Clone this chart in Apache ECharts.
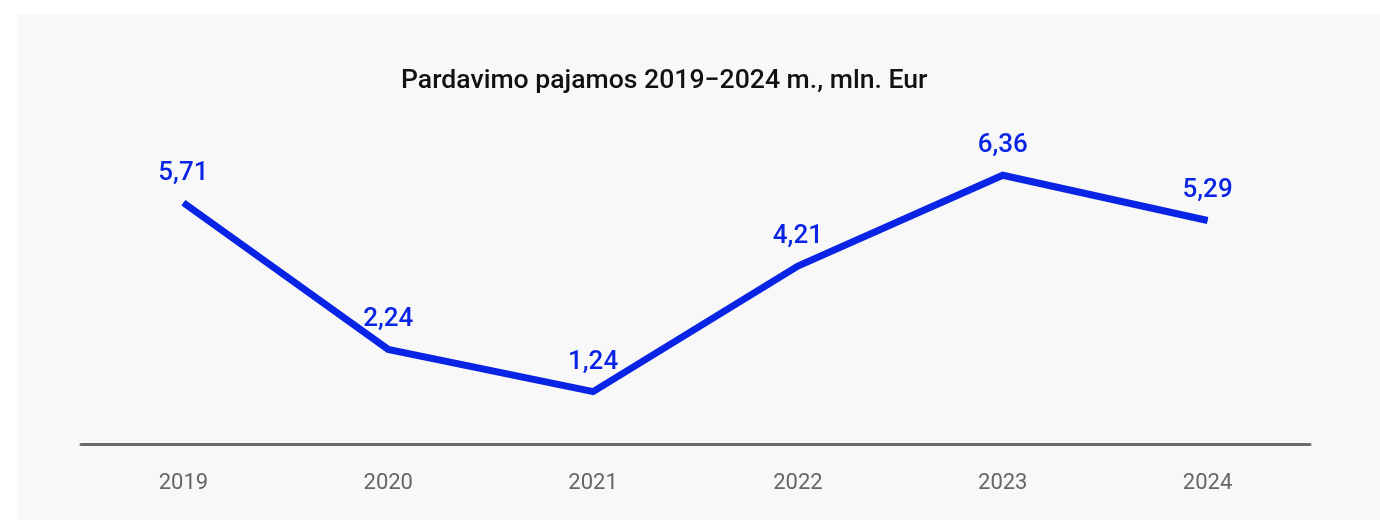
<!DOCTYPE html>
<html>
<head>
    <meta charset="utf-8">
    <title>Pardavimo pajamos</title>
    <script src="https://cdn.jsdelivr.net/npm/echarts@6/dist/echarts.min.js"></script>
    <style>
        html, body { margin: 0; padding: 0; background: #fff; }
        #main { width: 1380px; height: 523px; }
    </style>
</head>
<body>
<div id="main"></div>
<script>
    // duomenys
    var years = ['2019', '2020', '2021', '2022', '2023', '2024'];
    var revenue = [5.71, 2.24, 1.24, 4.21, 6.36, 5.29];
    var titleText = 'Pardavimo pajamos 2019−2024 m., mln. Eur';

    var blue = '#0a24e6';

    var myChart = echarts.init(document.getElementById('main'));
    myChart.setOption({
        backgroundColor: '#ffffff',
        textStyle: {fontFamily: 'Roboto'},
        graphic: [{
            type: 'rect',
            z: -10,
            shape: {x: 17, y: 14, width: 1363, height: 506},
            style: {fill: '#f8f8f8'}
        }],
        title: {
            text: titleText,
            left: 396,
            top: 63,
            textStyle: {
                fontFamily: 'Roboto',
                fontSize: 26.6,
                fontWeight: 500,
                color: '#111111'
            }
        },
        grid: {
            left: 81,
            right: 70,
            top: 106,
            bottom: 79
        },
        xAxis: {
            type: 'category',
            data: years,
            boundaryGap: true,
            axisLine: {lineStyle: {color: '#6b6b6b', width: 3}},
            axisTick: {show: false},
            axisLabel: {
                color: '#666666',
                fontSize: 22,
                margin: 28,
                fontFamily: 'Roboto'
            },
            splitLine: {show: false}
        },
        yAxis: {
            type: 'value',
            min: 0,
            max: 8,
            show: false,
            splitLine: {show: false}
        },
        series: [{
            type: 'line',
            data: revenue,
            symbol: 'circle',
            symbolSize: 1,
            itemStyle: {color: blue},
            lineStyle: {color: blue, width: 7, cap: 'butt', join: 'miter'},
            label: {
                show: true,
                position: 'top',
                distance: 16,
                color: blue,
                fontSize: 26,
                fontWeight: 500,
                fontFamily: 'Roboto',
                formatter: function (p) {
                    return p.value.toFixed(2).replace('.', ',');
                }
            },
            emphasis: {disabled: true},
            animation: false
        }],
        animation: false
    });
</script>
</body>
</html>
